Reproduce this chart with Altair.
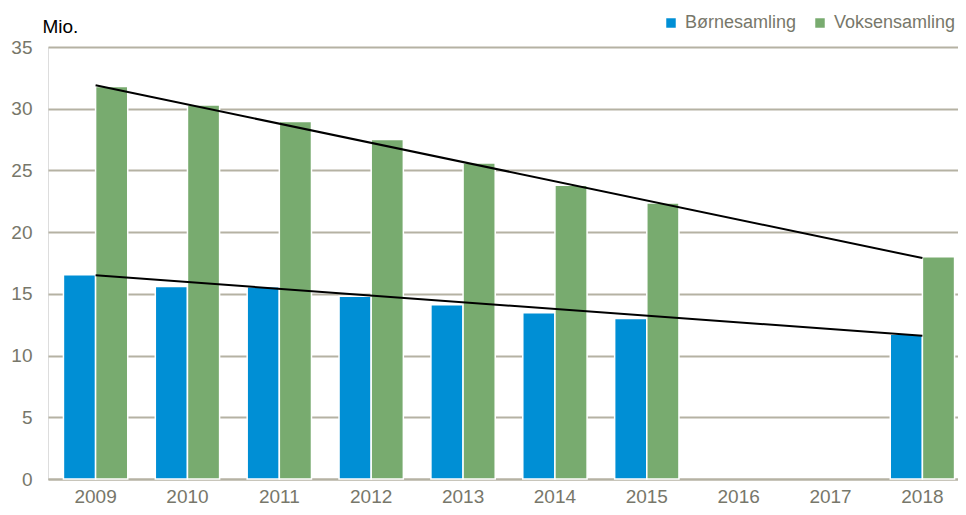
import altair as alt
import pandas as pd

years = ["2009", "2010", "2011", "2012", "2013", "2014", "2015", "2016", "2017", "2018"]
series_names = ["Børnesamling", "Voksensamling"]
boerne = [16.55, 15.6, 15.58, 14.8, 14.12, 13.47, 13.0, None, None, 11.72]
voksen = [31.8, 30.3, 28.96, 27.5, 25.6, 23.8, 22.36, None, None, 18.0]
colors = ["#008fd5", "#78ab6f"]

trend_years = ["2009", "2018"]
trend_boerne = [16.5, 11.6]
trend_voksen = [31.9, 17.9]

rows = []
for i, y in enumerate(years):
    if boerne[i] is not None:
        rows.append({"year": y, "series": series_names[0], "value": boerne[i]})
    if voksen[i] is not None:
        rows.append({"year": y, "series": series_names[1], "value": voksen[i]})
df = pd.DataFrame(rows)

trows = []
for i, y in enumerate(trend_years):
    trows.append({"year": y, "line": "b", "value": trend_boerne[i]})
    trows.append({"year": y, "line": "v", "value": trend_voksen[i]})
tdf = pd.DataFrame(trows)

FONT = "Liberation Sans, Arial"
TXT = "#77776a"
GRID = "#b5b2a3"

xenc = alt.X("year:N", scale=alt.Scale(domain=years, range=[0, 922],
                                       paddingInner=0.3, paddingOuter=0.168),
             axis=alt.Axis(title=None, labelAngle=0, ticks=False, domain=True,
                           domainColor=GRID, domainWidth=2, labelPadding=8,
                           labelFontSize=19, labelColor=TXT, labelFont=FONT))
yscale = alt.Scale(domain=[0, 35])

bars = alt.Chart(df).mark_bar(stroke="white", strokeWidth=1.5).encode(
    x=xenc,
    xOffset=alt.XOffset("series:N", sort=series_names, scale=alt.Scale(paddingInner=0.0)),
    y=alt.Y("value:Q", scale=yscale,
            axis=alt.Axis(values=[0, 5, 10, 15, 20, 25, 30, 35], ticks=False, domain=False,
                          grid=True, gridColor=GRID, gridWidth=2,
                          labelPadding=16, labelFontSize=19, labelColor=TXT, labelFont=FONT,
                          title="Mio.", titleAngle=0, titleX=-6, titleY=-15,
                          titleAlign="left", titleBaseline="alphabetic",
                          titleFontSize=19, titleFontWeight="normal", titleColor="#000000",
                          titleFont=FONT)),
    color=alt.Color("series:N", sort=series_names,
                    scale=alt.Scale(domain=series_names, range=colors),
                    legend=alt.Legend(title=None, orient="none", direction="horizontal",
                                      legendX=614, legendY=-33, symbolType="square",
                                      symbolSize=90, symbolStrokeWidth=0,
                                      labelFontSize=18, labelColor=TXT, labelFont=FONT,
                                      columnPadding=14, labelOffset=5)),
)

lines = alt.Chart(tdf).mark_line(color="black", strokeWidth=2).encode(
    x=alt.X("year:N", bandPosition=0.5),
    y=alt.Y("value:Q", scale=yscale),
    detail="line:N",
)

chart = alt.layer(bars, lines).properties(
    width=910, height=432,
    autosize=alt.AutoSizeParams(type="none"),
    padding={"left": 40, "top": 39, "right": 0, "bottom": 27},
).configure_view(stroke=None).configure(background="white")

chart.save("out.html", embed_options={"renderer": "svg", "actions": False})
